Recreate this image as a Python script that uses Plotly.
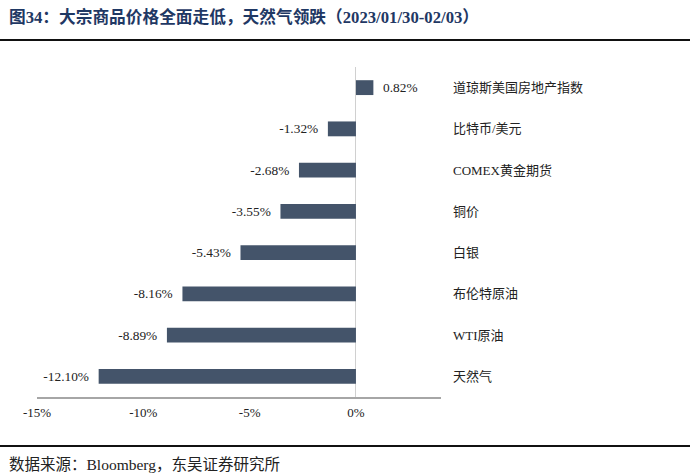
import plotly.graph_objects as go

categories = ["天然气", "WTI原油", "布伦特原油", "白银", "铜价", "COMEX黄金期货", "比特币/美元", "道琼斯美国房地产指数"]
values = [-12.10, -8.89, -8.16, -5.43, -3.55, -2.68, -1.32, 0.82]
tick_vals = [-15, -10, -5, 0]
tick_text = ["-15%", "-10%", "-5%", "0%"]

bar_color = "#44546A"
serif = "Liberation Serif, Times New Roman, Noto Sans CJK SC, serif"

pad = "\u00a0\u00a0"
labels = [(f"{v:.2f}%" + pad) if v < 0 else (pad + f"{v:.2f}%") for v in values]

fig = go.Figure()
fig.add_trace(go.Bar(
    x=values, y=categories, orientation="h",
    marker=dict(color=bar_color, line=dict(width=0)),
    width=0.36,
    text=labels, textposition="outside", cliponaxis=False,
    textfont=dict(family=serif, size=13.5, color="#222222"),
))

W, H = 700, 473
x0, x1 = 37, 441
y0, y1 = 67, 397

fig.update_layout(
    width=W, height=H,
    margin=dict(l=0, r=0, t=0, b=0),
    paper_bgcolor="white", plot_bgcolor="white",
    showlegend=False,
    bargap=0.64,
    xaxis=dict(
        domain=[x0 / W, x1 / W],
        range=[-15, 4],
        automargin=False,
        tickvals=tick_vals, ticktext=tick_text,
        showgrid=False, zeroline=True, zerolinecolor="#D0D0D0", zerolinewidth=1,
        showline=True, linecolor="#A6A6A6", linewidth=1.5,
        ticks="", ticklabelstandoff=3,
        tickfont=dict(family=serif, size=13, color="#222222"),
        fixedrange=True,
    ),
    yaxis=dict(
        domain=[1 - y1 / H, 1 - y0 / H],
        side="right",
        automargin=False,
        showgrid=False, showline=False, ticks="",
        ticklabelstandoff=11,
        tickfont=dict(family=serif, size=13, color="#222222"),
        fixedrange=True,
    ),
    font=dict(family=serif),
)

# Title
fig.add_annotation(
    xref="paper", yref="paper", x=7 / W, y=1 - 17 / H, xanchor="left", yanchor="middle",
    text="<b>图34：大宗商品价格全面走低，天然气领跌（2023/01/30-02/03）</b>",
    showarrow=False, font=dict(family=serif, size=16.7, color="#1F3864"),
)
# Source
fig.add_annotation(
    xref="paper", yref="paper", x=7 / W, y=1 - 464 / H, xanchor="left", yanchor="middle",
    text="数据来源：Bloomberg，东吴证券研究所",
    showarrow=False, font=dict(family=serif, size=15.5, color="#222222"),
)
# Rules
fig.add_shape(type="line", xref="paper", yref="paper", x0=0, x1=690 / W,
              y0=1 - 40 / H, y1=1 - 40 / H, line=dict(color="#111111", width=2))
fig.add_shape(type="line", xref="paper", yref="paper", x0=0, x1=690 / W,
              y0=1 - 446 / H, y1=1 - 446 / H, line=dict(color="#111111", width=2))

fig.write_html("out.html")
